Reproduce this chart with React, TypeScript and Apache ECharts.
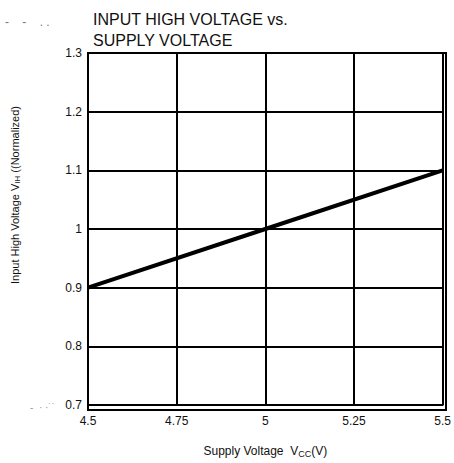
import React, { useEffect, useRef } from "react";
import * as echarts from "echarts";

const supplyVoltage = [4.5, 5.0, 5.5];
const vihNormalized = [0.9, 1.0, 1.1];
const xTicks = [4.5, 4.75, 5, 5.25, 5.5];
const yTicks = [0.7, 0.8, 0.9, 1, 1.1, 1.2, 1.3];

export default function App() {
  const ref = useRef<HTMLDivElement>(null);
  useEffect(() => {
    if (!ref.current) return;
    const chart = echarts.init(ref.current, null, { renderer: "svg" });
    const font = "Liberation Sans, Arial, sans-serif";
    chart.setOption({
      animation: false,
      backgroundColor: "#fff",
      title: {
        text: "INPUT HIGH VOLTAGE vs.\nSUPPLY VOLTAGE",
        left: 88,
        top: 4,
        textStyle: { fontFamily: font, fontSize: 16, fontWeight: "normal", color: "#111", lineHeight: 21 },
      },
      grid: { left: 88, top: 53, width: 358, height: 357, containLabel: false },
      xAxis: {
        type: "value",
        min: 4.5,
        max: 5.5,
        interval: 0.25,
        axisLine: { show: true, onZero: false, lineStyle: { color: "#000", width: 2 } },
        axisTick: { show: false },
        splitLine: { show: true, lineStyle: { color: "#000", width: 2 } },
        axisLabel: {
          margin: 10,
          fontFamily: font,
          fontSize: 12,
          color: "#111",
          formatter: (v: number) => (xTicks.includes(v) ? String(v) : ""),
        },
        name: "{a|Supply Voltage  V}{s|CC}{a|(V)}",
        nameLocation: "middle",
        nameGap: 38,
        nameTextStyle: {
          rich: {
            a: { fontFamily: font, fontSize: 12, color: "#111" },
            s: { fontFamily: font, fontSize: 9, color: "#111", padding: [6, 0, 0, 0] },
          },
        },
      },
      yAxis: {
        type: "value",
        min: 0.7,
        max: 1.3,
        interval: 0.1,
        axisLine: { show: true, onZero: false, lineStyle: { color: "#000", width: 2 } },
        axisTick: { show: false },
        splitLine: { show: true, lineStyle: { color: "#000", width: 2 } },
        axisLabel: {
          margin: 6,
          fontFamily: font,
          fontSize: 12,
          color: "#111",
          formatter: (v: number) => {
            const r = Math.round(v * 10) / 10;
            return yTicks.includes(r) ? String(r) : "";
          },
        },
      },
      graphic: [
        {
          type: "rect",
          shape: { x: 88, y: 53, width: 358, height: 357 },
          style: { fill: "none", stroke: "#000", lineWidth: 2 },
          silent: true,
          z: 10,
        },
        {
          type: "text",
          x: 15,
          y: 195,
          rotation: Math.PI / 2,
          style: {
            text: "{a|Input High Voltage V}{s|IH}{a| ((Normalized)}",
            align: "center",
            verticalAlign: "middle",
            rich: {
              a: { fontFamily: font, fontSize: 11, fill: "#111" },
              s: { fontFamily: font, fontSize: 8, fill: "#111", padding: [5, 0, 0, 0] },
            },
          },
        },
        {
          type: "text",
          x: 5,
          y: 16,
          style: { text: "-    -    . .", fontFamily: font, fontSize: 12, fill: "#777" },
        },
        {
          type: "text",
          x: 30,
          y: 402,
          style: { text: "-  · ·˙˙", fontFamily: font, fontSize: 10, fill: "#999" },
        },
      ],
      series: [
        {
          type: "line",
          data: supplyVoltage.map((x, i) => [x, vihNormalized[i]]),
          symbol: "none",
          lineStyle: { color: "#000", width: 4 },
          z: 5,
        },
      ],
    });
    return () => chart.dispose();
  }, []);
  return <div ref={ref} style={{ position: "absolute", left: 0, top: 0, width: 454, height: 463 }} />;
}
